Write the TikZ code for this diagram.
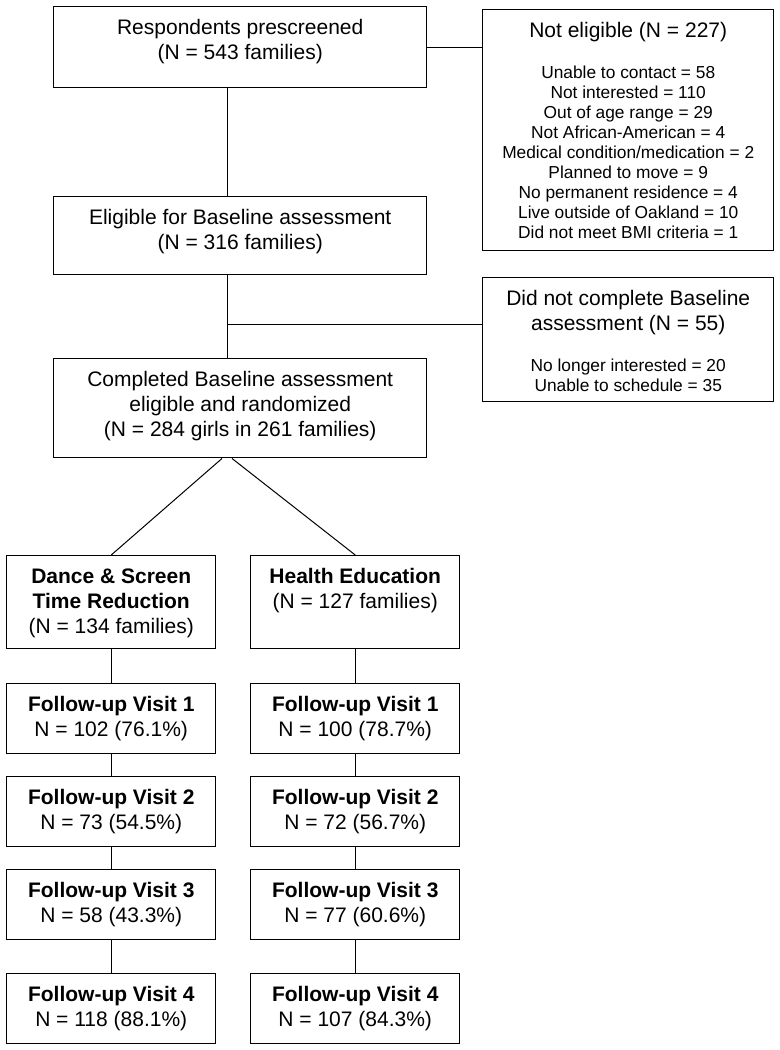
\documentclass[tikz,border=0pt]{standalone}
\usepackage{fontspec}
\setmainfont{Liberation Sans}

\newcommand{\stagebox}[3]{\parbox[c][#2][t]{#1}{\centering\rule{0pt}{21pt}#3}}
\newcommand{\subtext}{\par\vspace{15.75pt}\fontsize{13}{15}\selectfont}

\tikzset{every picture/.style={line width=0.75pt}}

\begin{document}
\begin{tikzpicture}[x=0.75pt,y=0.75pt,yscale=-1,xscale=1,
  stage/.style={draw, line width=1.1pt, inner sep=0pt, anchor=north west, font=\fontsize{15.75}{18.5}\selectfont}]
\useasboundingbox (0,0) rectangle (779,1050);

\coordinate (spine) at (227,0);
\coordinate (forkL) at (222,0);
\coordinate (forkR) at (232,0);
\coordinate (dropfork) at (227,324);

% Text Node
\node [stage] (prescreen) at (53,6) {\stagebox{279.75pt}{60.75pt}{Respondents prescreened\\(N = 543 families)}};
% Text Node
\node [stage] (eligible) at (53,196) {\stagebox{279.75pt}{58.5pt}{Eligible for Baseline assessment\\(N = 316 families)}};
% Text Node
\node [stage] (randomized) at (53,358) {\stagebox{279.75pt}{74.25pt}{Completed Baseline assessment\\eligible and randomized\\(N = 284 girls in 261 families)}};
% Text Node
\node [stage] (noteligible) at (482,9) {\stagebox{218.25pt}{180.75pt}{Not eligible (N = 227)\subtext Unable to contact = 58\\Not interested = 110\\Out of age range = 29\\Not African-American = 4\\Medical condition/medication = 2\\Planned to move = 9\\No permanent residence = 4\\Live outside of Oakland = 10\\Did not meet BMI criteria = 1}};
% Text Node
\node [stage] (dropout) at (482,277) {\stagebox{218.25pt}{93pt}{Did not complete Baseline\\assessment (N = 55)\subtext No longer interested = 20\\Unable to schedule = 35}};

% Text Node
\node [stage] (dance) at (6,555) {\stagebox{156.75pt}{69.75pt}{\textbf{Dance \& Screen}\\\textbf{Time Reduction}\\(N = 134 families)}};
% Text Node
\node [stage] (health) at (250,555) {\stagebox{156.75pt}{69.75pt}{\textbf{Health Education}\\(N = 127 families)}};

% Text Node
\node [stage] (danceA) at (6,683) {\stagebox{156.75pt}{52.5pt}{\textbf{Follow-up Visit 1}\\N = 102 (76.1\%)}};
% Text Node
\node [stage] (danceB) at (6,776) {\stagebox{156.75pt}{52.5pt}{\textbf{Follow-up Visit 2}\\N = 73 (54.5\%)}};
% Text Node
\node [stage] (danceC) at (6,869) {\stagebox{156.75pt}{52.5pt}{\textbf{Follow-up Visit 3}\\N = 58 (43.3\%)}};
% Text Node
\node [stage] (danceD) at (6,973) {\stagebox{156.75pt}{52.5pt}{\textbf{Follow-up Visit 4}\\N = 118 (88.1\%)}};

% Text Node
\node [stage] (healthA) at (250,683) {\stagebox{156.75pt}{52.5pt}{\textbf{Follow-up Visit 1}\\N = 100 (78.7\%)}};
% Text Node
\node [stage] (healthB) at (250,776) {\stagebox{156.75pt}{52.5pt}{\textbf{Follow-up Visit 2}\\N = 72 (56.7\%)}};
% Text Node
\node [stage] (healthC) at (250,869) {\stagebox{156.75pt}{52.5pt}{\textbf{Follow-up Visit 3}\\N = 77 (60.6\%)}};
% Text Node
\node [stage] (healthD) at (250,973) {\stagebox{156.75pt}{52.5pt}{\textbf{Follow-up Visit 4}\\N = 107 (84.3\%)}};

%Straight Lines
\draw (prescreen.south -| spine) -- (eligible.north -| spine) ;
%Straight Lines
\draw (prescreen.east) -- (prescreen.east -| noteligible.west) ;
%Straight Lines
\draw (eligible.south -| spine) -- (randomized.north -| spine) ;
%Straight Lines
\draw (dropfork) -- (dropfork -| dropout.west) ;
%Straight Lines
\draw (randomized.south -| forkL) -- (dance.north) ;
%Straight Lines
\draw (randomized.south -| forkR) -- (health.north) ;

%Straight Lines
\draw (dance.south) -- (danceA.north) ;
\draw (danceA.south) -- (danceB.north) ;
\draw (danceB.south) -- (danceC.north) ;
\draw (danceC.south) -- (danceD.north) ;
%Straight Lines
\draw (health.south) -- (healthA.north) ;
\draw (healthA.south) -- (healthB.north) ;
\draw (healthB.south) -- (healthC.north) ;
\draw (healthC.south) -- (healthD.north) ;

\end{tikzpicture}
\end{document}
